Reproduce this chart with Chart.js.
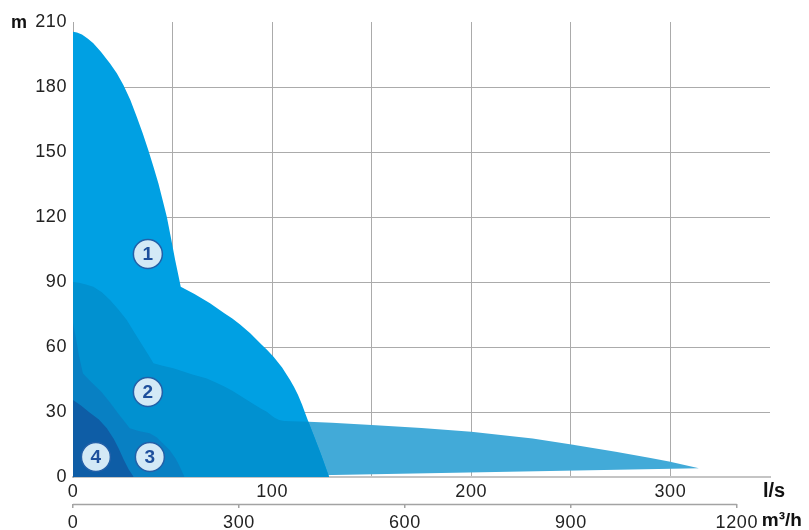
<!DOCTYPE html>
<html>
<head>
<meta charset="utf-8">
<script src="https://cdn.jsdelivr.net/npm/chart.js@4.4.1/dist/chart.umd.min.js"></script>
<style>
html,body{margin:0;padding:0;background:#ffffff;}
#wrap{width:809px;height:530px;}
</style>
</head>
<body>
<div id="wrap"><canvas id="c" width="809" height="530"></canvas></div>
<script>
// ---- data (flow in l/s, head in m) ----
const pump1X = [0, 2, 4.5, 7.5, 10.2, 14, 18.6, 22, 25.3, 28.8, 32, 35, 37.8, 40.4, 42.9, 45, 47.1, 49.2, 51.3, 52.7, 54.1,
                61, 68.8, 76, 80, 83.9, 89, 94, 97.5, 100.7, 105, 109, 111, 113, 115, 116.6, 118.2, 120.8, 124.7, 128.6];
const pump1Y = [205.5, 205.2, 204.2, 202.3, 200.2, 196.3, 190.9, 186.4, 180.9, 174, 166.3, 158.7, 150.9, 143.2, 135.5, 127.8, 120.1, 110.3, 100.2, 94, 87.8,
                84.5, 80.2, 75.6, 73.2, 70.4, 66.3, 61.7, 58.6, 55.5, 50.5, 44.8, 41.5, 37.8, 33.5, 29.4, 25.5, 19.4, 10, 0];

const pump2X = [0, 3, 6.5, 10.2, 14.5, 18.6, 22.8, 27, 31, 35.3, 38, 40.4, 45, 50.4, 55, 60, 67.2, 72, 76, 80, 84, 88, 91, 94.5, 97.3,
                99.5, 101, 103.5, 106, 118.2, 120.8, 124.7, 128.6];
const pump2Y = [90, 89.6, 88.9, 87.8, 85.3, 81.7, 77.3, 72.5, 66.5, 60.1, 56.2, 52.5, 51.4, 50.2, 48.8, 47.3, 45.5, 43.5, 41.8, 39.8, 37.5, 35.2, 33.5, 31.5, 30.1,
                28.5, 27.5, 26.3, 25.8, 25.5, 19.4, 10, 0];

const pump3X = [0, 1.5, 3, 5, 9, 14.2, 18.5, 22.6, 28.5, 33, 38.5, 42, 44.5, 46.5, 48.5, 50, 51.5, 53, 54, 56];
const pump3Y = [71, 64, 56, 47.8, 44, 39.4, 34.5, 29.4, 22.5, 21.2, 20.2, 18.3, 16, 14.3, 12.5, 10.5, 8.5, 6, 4, 0];

const pump4X = [0, 4, 8, 13, 17, 20.5, 23, 25.5, 28, 30.5];
const pump4Y = [35.5, 33, 30, 26.5, 22.5, 17.5, 13, 8, 3.5, 0];

const wideTopX = [110, 118.2, 130, 150, 175, 200, 230.8, 249.5, 272.5, 290, 299.3, 314.3];
const wideTopY = [25.7, 25.5, 25, 24, 22.6, 20.9, 17.8, 15.1, 11.7, 8.8, 7.1, 4];
const wideBottomX = [110, 314.3];
const wideBottomY = [0.6, 4];

const headTicks = [0, 30, 60, 90, 120, 150, 180, 210];
const flowTicksLs = [0, 100, 200, 300];
const flowTicksM3h = [0, 300, 600, 900, 1200];

const badgeNumbers = ['1', '2', '3', '4'];
const badgeX = [37.6, 37.6, 38.6, 11.5];
const badgeY = [102.9, 39.2, 9.2, 9.2];

// ---- helpers ----
const pts = (xs, ys) => xs.map((x, i) => ({ x: x, y: ys[i] }));
const FONT = "'Liberation Sans', Arial, Helvetica, sans-serif";
const GRID = '#ababab';

function area(xs, ys, color, order, fill) {
  return {
    data: pts(xs, ys), backgroundColor: color, borderColor: 'rgba(0,0,0,0)',
    borderWidth: 0, pointRadius: 0, pointHoverRadius: 0, tension: 0,
    fill: fill, order: order
  };
}

const datasets = [
  { // 0 badges
    data: pts(badgeX, badgeY), showLine: false, pointRadius: 14.5, pointHoverRadius: 14.5,
    pointBackgroundColor: '#d3e9f6', pointBorderColor: '#2260a8', pointBorderWidth: 1.5,
    order: 0, fill: false
  },
  area(pump4X, pump4Y, '#0e5da6', 1, 'origin'),          // 1
  area(pump3X, pump3Y, '#0880c3', 2, 'origin'),          // 2
  area(pump2X, pump2Y, '#0191d0', 3, 'origin'),          // 3
  area(pump1X, pump1Y, '#00a0e3', 4, 'origin'),          // 4
  area(wideTopX, wideTopY, '#42aad8', 5, 6),             // 5 fill to dataset 6
  area(wideBottomX, wideBottomY, 'rgba(0,0,0,0)', 6, false) // 6
];

const spacingPlugin = {
  id: 'spacing',
  beforeDraw(chart) { chart.ctx.letterSpacing = '0.6px'; }
};

const badgeTextPlugin = {
  id: 'badgeText',
  afterDatasetsDraw(chart) {
    const meta = chart.getDatasetMeta(0);
    const ctx = chart.ctx;
    ctx.save();
    ctx.letterSpacing = '0px';
    ctx.font = "bold 19px " + FONT;
    ctx.fillStyle = '#1d4f9c';
    ctx.textAlign = 'center';
    ctx.textBaseline = 'middle';
    meta.data.forEach((p, i) => ctx.fillText(badgeNumbers[i], p.x, p.y + 1));
    ctx.restore();
  }
};

const axisExtrasPlugin = {
  id: 'axisExtras',
  afterDraw(chart) {
    const ctx = chart.ctx;
    const xs = chart.scales.x, x2 = chart.scales.x2, ys = chart.scales.y;
    ctx.save();
    ctx.letterSpacing = '0px';
    // secondary axis line (0..1200 m3/h)
    ctx.strokeStyle = '#a3a3a3';
    ctx.lineWidth = 1.5;
    ctx.beginPath();
    ctx.moveTo(x2.getPixelForValue(0), x2.top + 0.5);
    ctx.lineTo(x2.getPixelForValue(1200), x2.top + 0.5);
    ctx.stroke();
    // unit labels
    ctx.fillStyle = '#111';
    ctx.textBaseline = 'middle';
    ctx.textAlign = 'left';
    ctx.font = "bold 18px " + FONT;
    ctx.fillText('m', 11, ys.getPixelForValue(210) + 1);
    ctx.font = "bold 20px " + FONT;
    ctx.fillText('l/s', xs.right - 7, xs.top + 14);
    ctx.font = "bold 19px " + FONT;
    ctx.fillText('m\u00B3/h', x2.getPixelForValue(1200) + 25, x2.top + 17);
    ctx.restore();
  }
};

new Chart(document.getElementById('c'), {
  type: 'line',
  data: { datasets: datasets },
  plugins: [spacingPlugin, badgeTextPlugin, axisExtrasPlugin],
  options: {
    responsive: false,
    animation: false,
    events: [],
    layout: { padding: { left: 0, right: 39, top: 22, bottom: 0 } },
    plugins: { legend: { display: false }, tooltip: { enabled: false } },
    scales: {
      x: {
        type: 'linear', position: 'bottom', min: 0, max: 350, weight: 0, z: 1,
        afterFit: s => { s.height = 27; },
        ticks: {
          stepSize: 50, autoSkip: false, maxRotation: 0, padding: 4,
          font: { family: FONT, size: 18 }, color: '#222',
          callback: v => flowTicksLs.includes(v) ? String(v) : ''
        },
        grid: {
          drawTicks: false, lineWidth: 1,
          color: c => (c.tick && (c.tick.value === 0 || c.tick.value === 350)) ? 'rgba(0,0,0,0)' : GRID
        },
        border: { display: true, color: '#c4c4c4', width: 2 }
      },
      x2: {
        type: 'linear', position: 'bottom', min: 0, max: 350 * 3.6, weight: 1, z: 1,
        afterFit: s => { s.height = 26; },
        afterBuildTicks: s => { s.ticks = flowTicksM3h.map(v => ({ value: v })); },
        ticks: {
          autoSkip: false, maxRotation: 0, padding: 4,
          font: { family: FONT, size: 18 }, color: '#222',
          callback: v => String(v)
        },
        grid: { drawOnChartArea: false, drawTicks: true, tickLength: 4, color: '#a3a3a3', lineWidth: 1.5 },
        border: { display: false }
      },
      y: {
        type: 'linear', position: 'left', min: 0, max: 210, z: 1,
        afterFit: s => { s.width = 73; },
        afterBuildTicks: s => { s.ticks = headTicks.map(v => ({ value: v })); },
        ticks: {
          padding: 6, font: { family: FONT, size: 18 }, color: '#222',
          callback: v => String(v)
        },
        grid: {
          drawTicks: false, lineWidth: 1,
          color: c => (c.tick && (c.tick.value === 0 || c.tick.value === 210)) ? 'rgba(0,0,0,0)' : GRID
        },
        border: { display: true, color: '#a8a8a8', width: 1 }
      }
    }
  }
});
</script>
</body>
</html>
